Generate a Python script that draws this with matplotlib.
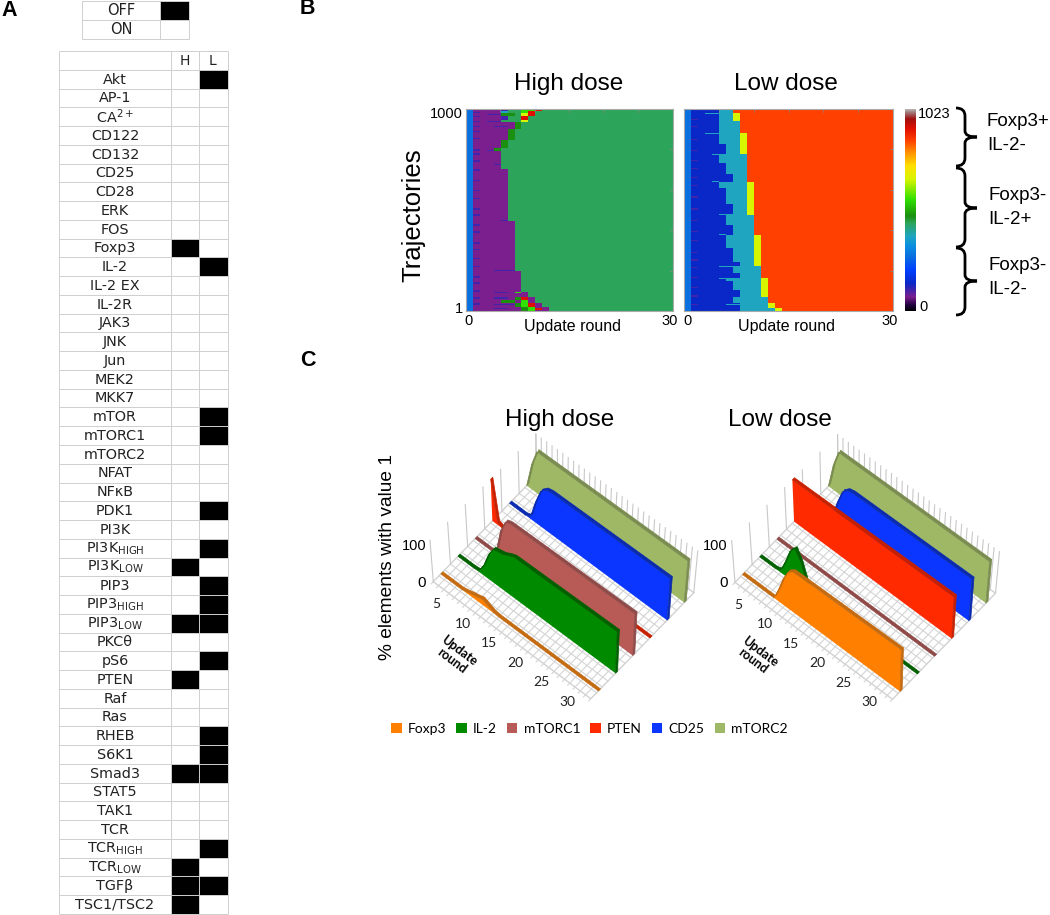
import numpy as np
import matplotlib
matplotlib.use('Agg')
import matplotlib.pyplot as plt
from matplotlib.colors import LinearSegmentedColormap, ListedColormap, Normalize
from matplotlib.patches import Patch, PathPatch, Polygon
from matplotlib.path import Path

plt.rcParams['font.family'] = ['Liberation Sans', 'DejaVu Sans']
plt.rcParams['mathtext.default'] = 'regular'

W, H = 1050, 915

# panel A
nodes = ['Akt', 'AP-1', 'CA$^{2+}$', 'CD122', 'CD132', 'CD25', 'CD28', 'ERK', 'FOS', 'Foxp3', 'IL-2',
         'IL-2 EX', 'IL-2R', 'JAK3', 'JNK', 'Jun', 'MEK2', 'MKK7', 'mTOR', 'mTORC1', 'mTORC2', 'NFAT',
         'NFκB', 'PDK1', 'PI3K', 'PI3K$_{HIGH}$', 'PI3K$_{LOW}$', 'PIP3', 'PIP3$_{HIGH}$', 'PIP3$_{LOW}$',
         'PKCθ', 'pS6', 'PTEN', 'Raf', 'Ras', 'RHEB', 'S6K1', 'Smad3', 'STAT5', 'TAK1', 'TCR',
         'TCR$_{HIGH}$', 'TCR$_{LOW}$', 'TGFβ', 'TSC1/TSC2']
off_high = ['Foxp3', 'PI3K$_{LOW}$', 'PIP3$_{LOW}$', 'PTEN', 'Smad3', 'TCR$_{LOW}$', 'TGFβ', 'TSC1/TSC2']
off_low = ['Akt', 'IL-2', 'mTOR', 'mTORC1', 'PDK1', 'PI3K$_{HIGH}$', 'PIP3', 'PIP3$_{HIGH}$', 'PIP3$_{LOW}$',
           'pS6', 'RHEB', 'S6K1', 'Smad3', 'TCR$_{HIGH}$', 'TGFβ']

# panel B, low dose: band upper limit (trajectories), dark blue end, teal end, yellow end (columns)
low_top = [13, 38, 68, 104, 149, 162, 186, 219, 241, 310, 376, 426, 475, 525, 607, 637, 673, 731, 772, 822,
           875, 934, 974, 990, 1000]
low_blue = [8, 8, 7, 8, 7, 6, 8, 7, 8, 7, 6, 7, 6, 7, 6, 5, 7, 6, 5, 6, 5, 5, 5, 5, 4]
low_teal = [13, 12, 12, 11, 11, 11, 11, 11, 10, 10, 10, 10, 10, 9, 9, 9, 9, 9, 9, 8, 8, 8, 7, 7, 6]
low_yellow = [14, 13, 12, 12, 12, 12, 11, 11, 11, 11, 11, 10, 10, 10, 10, 10, 9, 9, 9, 9, 9, 8, 8, 7, 7]
low_stripes = [942, 904, 842, 789, 739, 698, 657, 615, 558, 500, 442, 389, 343, 285, 248, 211, 162, 115, 71, 30]
# traj, first col, last col of thin streaks
low_streaks = [(30, 6, 8), (162, 5, 6), (219, 5, 7), (376, 5, 6), (475, 5, 7), (637, 4, 5), (772, 4, 7),
               (875, 3, 5), (974, 3, 5)]

# panel B, high dose: band upper limit, purple end
high_top = [18, 38, 71, 96, 195, 445, 699, 790, 802, 842, 897, 929, 1000]
high_purple = [12, 11, 10, 9, 8, 7, 6, 5, 4, 5, 6, 7, 5]
high_stripes = [975, 955, 930, 905, 880, 845, 790, 770, 735, 690, 640, 590, 550, 500, 470, 420, 385, 330,
                300, 255, 215, 165, 135, 95, 60, 30]
# traj low, traj high, first col, last col, value name
high_patches = [(987, 1000, 5, 6, 'gray'), (987, 1000, 8, 10, 'bright'), (987, 1000, 10, 11, 'red'),
                (974, 987, 5, 6, 'teal'), (974, 987, 8, 9, 'bright'), (974, 987, 9, 10, 'red'),
                (960, 974, 5, 7, 'dark'), (960, 974, 8, 9, 'yellow'), (960, 974, 9, 10, 'red'),
                (941, 960, 5, 6, 'gray'), (941, 960, 8, 9, 'red'), (929, 941, 8, 9, 'yellow'),
                (897, 929, 7, 8, 'dark'), (842, 897, 6, 7, 'dark'), (802, 842, 5, 6, 'dark'),
                (790, 802, 4, 5, 'dark'), (967, 972, 3, 5, 'gray'), (930, 935, 3, 5, 'gray'),
                (905, 910, 4, 6, 'gray'), (787, 792, 3, 4, 'gray'), (720, 725, 4, 5, 'gray'),
                (445, 450, 5, 6, 'gray'), (195, 200, 4, 7, 'gray'),
                (88, 93, 4, 6, 'gray'), (88, 93, 7, 8, 'bright'),
                (60, 68, 4, 6, 'gray'), (55, 68, 7, 8, 'dark'), (55, 68, 8, 9, 'red'), (41, 55, 5, 7, 'dark'),
                (41, 55, 8, 9, 'bright'), (28, 36, 4, 7, 'gray'),
                (18, 38, 7, 8, 'dark'), (18, 38, 8, 9, 'bright'), (18, 38, 9, 10, 'red'),
                (8, 14, 4, 6, 'gray'), (0, 18, 8, 9, 'dark'), (0, 18, 9, 10, 'bright'), (5, 13, 10, 11, 'red')]

state_values = {'purple': 71, 'blue': 139, 'start': 275, 'teal': 376, 'sea': 444, 'dark': 478, 'bright': 562,
                'yellow': 664, 'orange': 859, 'red': 920, 'gray': 105}
cbar_stops = [0, 30, 71, 139, 207, 275, 330, 376, 444, 478, 562, 664, 732, 800, 859, 920, 969, 1003, 1023]
cbar_colors = ['#000000', '#200040', '#7b1e8e', '#0a28c8', '#0040ff', '#0a70e0', '#0a90e0', '#1fa5c0', '#2ca55a',
               '#1a8f10', '#30e000', '#d8f500', '#ffe000', '#ff9000', '#ff4000', '#e01000', '#a01010', '#a08080',
               '#c8c8c8']

# panel C, % elements per update round 0..30
high_foxp3 = [0, 0, 0, 0, 0, 3, 7, 10, 14, 8, 2] + [0] * 20
high_il2 = [0, 0, 0, 0, 2, 25, 60, 82, 85, 88, 95] + [100] * 20
high_mtorc1 = [0, 0, 0, 0, 5, 65, 96] + [100] * 24
high_pten = [100, 5] + [0] * 29
high_cd25 = [0, 0, 0, 0, 5, 50, 85, 97] + [100] * 23
high_mtorc2 = [0, 60] + [100] * 29
low_foxp3 = [0, 0, 0, 0, 0, 0, 0, 30, 65, 90] + [100] * 21
low_il2 = [0, 0, 0, 0, 5, 35, 70, 85, 60, 20] + [0] * 21
low_mtorc1 = [0] * 31
low_pten = [100] * 31
low_cd25 = [0, 0, 0, 0, 5, 50, 85, 97] + [100] * 23
low_mtorc2 = [0, 60] + [100] * 29
round_ticks = [5, 10, 15, 20, 25, 30]
series_names = ['Foxp3', 'IL-2', 'mTORC1', 'PTEN', 'CD25', 'mTORC2']
face_colors = ['#ff8000', '#008a00', '#b85a55', '#ff2a00', '#0a36ff', '#9fb866']
top_colors = ['#c46a10', '#006000', '#8f4a48', '#c62000', '#0a2bb0', '#7a8c50']


def px_axes(x0, y0, x1, y1):
    return fig.add_axes([x0 / W, 1 - y1 / H, (x1 - x0) / W, (y1 - y0) / H])


fig = plt.figure(figsize=(W / 100, H / 100), dpi=100)
ov = fig.add_axes([0, 0, 1, 1])
ov.set_xlim(0, W)
ov.set_ylim(H, 0)
ov.axis('off')

for lab, x, y in [('A', 1, 10), ('B', 300, 9), ('C', 300, 361)]:
    ov.text(x, y, lab, fontsize=15.5, fontweight='bold', va='center', ha='left')

# ---- panel A ----
tab_cmap = ListedColormap(['white', 'black'])
grid_col = '#cfcfcf'


def table_mesh(a, xedges, mat):
    # cells first, thin grid lines over them
    a.pcolormesh(xedges, np.arange(mat.shape[0] + 1), mat, cmap=tab_cmap, vmin=0, vmax=1)
    a.hlines(np.arange(mat.shape[0] + 1), xedges[0], xedges[-1], color=grid_col, lw=0.7, clip_on=False)
    a.vlines(xedges, 0, mat.shape[0], color=grid_col, lw=0.7, clip_on=False)
    a.set_xlim(xedges[0], xedges[-1])
    a.set_ylim(mat.shape[0], 0)
    a.axis('off')


key = px_axes(82, 1, 189, 39)
table_mesh(key, [0, 78, 107], np.array([[0, 1], [0, 0]], dtype=float))
key.text(39, 0.52, 'OFF', family='DejaVu Sans', fontsize=10.5, ha='center', va='center', color='#222222')
key.text(39, 1.52, 'ON', family='DejaVu Sans', fontsize=10.5, ha='center', va='center', color='#222222')

tab = px_axes(59, 51, 228, 914)
states = np.zeros((len(nodes) + 1, 3))
for i, n in enumerate(nodes):
    states[i + 1, 1] = n in off_high
    states[i + 1, 2] = n in off_low
table_mesh(tab, [0, 112, 140, 169], states)
tab.text(126, 0.55, 'H', family='DejaVu Sans', fontsize=10, ha='center', va='center', color='#222222')
tab.text(154, 0.55, 'L', family='DejaVu Sans', fontsize=10, ha='center', va='center', color='#222222')
for i, n in enumerate(nodes):
    tab.text(56, i + 1.52, n, family='DejaVu Sans', fontsize=10.4, ha='center', va='center', color='#222222')

# ---- panel B ----
heat_cmap = LinearSegmentedColormap.from_list('states', [(s / 1023, c) for s, c in zip(cbar_stops, cbar_colors)], N=1024)
norm = Normalize(0, 1023)
row_size = 2.5
n_rows = int(1000 / row_size)


def row(t):
    return int(round(t / row_size))


high_mat = np.full((n_rows, 30), state_values['sea'], dtype=float)
lo = 0
for top, p in zip(high_top, high_purple):
    high_mat[row(lo):row(top), 1:p] = state_values['purple']
    lo = top
high_mat[:, 0] = state_values['start']
for t in high_stripes:
    high_mat[row(t):row(t + 7), 1] = state_values['gray']
for t0, t1, c0, c1, name in high_patches:
    high_mat[row(t0):row(t1), c0:c1] = state_values[name]

low_mat = np.full((n_rows, 30), state_values['orange'], dtype=float)
lo = 0
for top, b, t, y in zip(low_top, low_blue, low_teal, low_yellow):
    low_mat[row(lo):row(top), 1:b] = state_values['blue']
    low_mat[row(lo):row(top), b:t] = state_values['teal']
    low_mat[row(lo):row(top), t:y] = state_values['yellow']
    lo = top
low_mat[:, 0] = state_values['start']
for t in low_stripes:
    low_mat[row(t):row(t + 6), 1] = state_values['gray']
for t, c0, c1 in low_streaks:
    low_mat[row(t - 2):row(t + 3), c0:c1] = state_values['teal']

for mat, x0, x1, title, show_y in [(high_mat, 465.5, 673, 'High dose', True), (low_mat, 684, 893, 'Low dose', False)]:
    a = px_axes(x0, 109, x1, 311)
    a.imshow(mat, origin='lower', extent=[0, 30, 0, 1000], aspect='auto', cmap=heat_cmap, norm=norm,
             interpolation='nearest')
    a.set_xticks([0.5, 29.5], ['0', '30'], fontsize=10.5)
    a.set_yticks([15, 985] if show_y else [], ['1', '1000'] if show_y else [], fontsize=10.5)
    a.tick_params(length=0, pad=2, color='#888888')
    for s in a.spines.values():
        s.set_color('#aaaaaa')
        s.set_linewidth(0.8)
    for k in [5, 10, 15, 20, 25]:
        a.plot([k, k], [985, 1000], color='#888888', lw=0.5)
    for k in [200, 400, 600, 800]:
        a.plot([29.5, 30], [k, k], color='#888888', lw=0.5)
    a.set_xlim(0, 30)
    a.set_ylim(0, 1000)
    ov.text((x0 + x1) / 2 - 3 + (2 if show_y else 0), 84, title, fontsize=17.5, ha='center', va='center')
    ov.text((x0 + x1) / 2 + 3 - (5 if not show_y else 0), 326, 'Update round', fontsize=11.5, ha='center', va='center')
ov.text(413, 215, 'Trajectories', fontsize=18.5, rotation=90, ha='center', va='center')

cb = px_axes(905, 109, 916, 311)
cb.imshow(np.arange(1024)[:, None], origin='lower', aspect='auto', cmap=heat_cmap, norm=norm)
cb.set_xticks([])
cb.set_yticks([])
for s in cb.spines.values():
    s.set_visible(False)
ov.text(918, 114, '1023', fontsize=10.5, va='center')
ov.text(919, 307, '0', fontsize=10.5, va='center')


def brace(y0, ym, y1):
    # curly bracket opening to the left, tip at the right
    xl, xs, xt = 956, 965, 977
    verts = [(xl, y0), (xs, y0), (xs, y0 + 8), (xs, ym - 6), (xs, ym), (xt, ym),
             (xs, ym), (xs, ym + 6), (xs, y1 - 8), (xs, y1), (xl, y1)]
    codes = [Path.MOVETO, Path.CURVE3, Path.CURVE3, Path.LINETO, Path.CURVE3, Path.CURVE3,
             Path.CURVE3, Path.CURVE3, Path.LINETO, Path.CURVE3, Path.CURVE3]
    ov.add_patch(PathPatch(Path(verts, codes), fc='none', ec='black', lw=2))


brace(108, 137, 166)
brace(168, 208, 247)
brace(248, 281, 315)
for txt, x, y in [('Foxp3+', 987, 122), ('IL-2-', 987, 145), ('Foxp3-', 988, 196), ('IL-2+', 988, 220),
                  ('Foxp3-', 988, 265), ('IL-2-', 988, 290)]:
    ov.text(x, y, txt, fontsize=13.5, va='center')

# ---- panel C ----
du = np.array([15.75, 11.7]) / 3
dv = np.array([51.5, -53.0]) / 3
height = 125 / 3


def project(origin, u, v, val):
    u, v, val = np.broadcast_arrays(u, v, val)
    x = origin[0] + u * du[0] + v * dv[0]
    y = origin[1] + u * du[1] + v * dv[1]
    t = (x - origin[0]) / 262.0
    return np.column_stack([x + np.asarray(val) / 100 * (-10 + 22 * t) / 3, y - np.asarray(val) / 100 * height])


def ribbon_chart(origin, series, title, title_x):
    grid = '#d4d4d4'
    wall = '#c8c8c8'
    # floor
    ov.add_patch(Polygon(project(origin, np.array([0, 30, 30, 0]), np.array([0, 0, 6, 6]), 0), fc='white', ec=grid,
                         lw=0.8, zorder=1))
    for r in range(31):
        ov.plot(*project(origin, r, np.array([-0.12, 6]), 0).T, color=grid, lw=0.8, zorder=1)
        ov.plot(*project(origin, r, 6, np.array([0, 100])).T, color=wall, lw=0.8, zorder=1)
    for j in range(19):
        ov.plot(*project(origin, np.array([0, 30]), j / 3, 0).T, color=grid, lw=0.8, zorder=1)
    for j in range(7):
        ov.plot(*project(origin, 0, j, np.array([0, 100])).T, color=wall, lw=0.8, zorder=1)
    rounds = np.arange(31)
    for i in range(5, -1, -1):
        vals = np.array(series[i], dtype=float)
        z = 2 + (5 - i) * 0.1
        vf, vb = i + 0.44, i + 0.56
        front = project(origin, rounds, vf, vals)
        back = project(origin, rounds, vb, vals)
        floor = project(origin, rounds, vf, 0)
        ov.add_patch(Polygon(np.vstack([front, floor[::-1]]), fc=face_colors[i], ec='none', zorder=z))
        ov.add_patch(Polygon(np.vstack([front, back[::-1]]), fc=top_colors[i], ec=top_colors[i], lw=0.5, zorder=z + 0.01))
        cap = np.vstack([project(origin, 30, vf, np.array([0, vals[-1]])),
                         project(origin, 30, vb, np.array([vals[-1], 0]))])
        ov.add_patch(Polygon(cap, fc=top_colors[i], ec=top_colors[i], lw=0.5, zorder=z + 0.02))
    for r in round_ticks:
        p = project(origin, r, 0, 0)[0]
        ov.text(p[0] - 23, p[1] + 3, str(r), family=['Lato', 'DejaVu Sans'], fontsize=10, ha='center', va='center',
                color='#222222')
    ov.text(origin[0] - 7, origin[1] + 1, '0', fontsize=11, ha='right', va='center')
    ov.text(origin[0] - 7, origin[1] - 36, '100', fontsize=10.5, ha='right', va='center')
    ov.text(origin[0] + 22, origin[1] + 74, 'Update\nround', family=['Lato', 'DejaVu Sans'], fontweight='bold', fontsize=9,
            rotation=-37, ha='center', va='center', rotation_mode='anchor', linespacing=1.0)
    ov.text(title_x, 420, title, fontsize=17.5, ha='center', va='center')


ribbon_chart((433.3, 581.7), [high_foxp3, high_il2, high_mtorc1, high_pten, high_cd25, high_mtorc2], 'High dose', 560)
ribbon_chart((735, 582.3), [low_foxp3, low_il2, low_mtorc1, low_pten, low_cd25, low_mtorc2], 'Low dose', 780)
ov.text(388, 557, '% elements with value 1', fontsize=13.8, rotation=90, ha='center', va='center')

handles = [Patch(fc=c, ec='none', label=n) for c, n in zip(face_colors, series_names)]
fig.legend(handles=handles, ncol=6, frameon=False, loc='center', bbox_to_anchor=(589.5 / W, 1 - 729 / H),
           prop={'family': ['Lato', 'DejaVu Sans'], 'size': 10}, handlelength=0.75, handleheight=0.75,
           handletextpad=0.45, columnspacing=0.72)

fig.savefig('out.png', dpi=100)
